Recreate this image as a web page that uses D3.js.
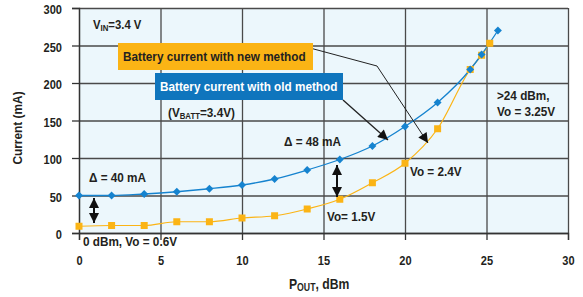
<!DOCTYPE html>
<html>
<head>
<meta charset="utf-8">
<script src="https://cdn.jsdelivr.net/npm/d3@7"></script>
<style>
  body { margin: 0; background: #fff; }
  svg text { font-family: "Liberation Sans", Arial, sans-serif; font-weight: bold; fill: #231f20; }
</style>
</head>
<body>
<div id="chart"></div>
<script>
// P_OUT (dBm) and battery current (mA)
const poutOld = [0, 2, 4, 6, 8, 10, 12, 14, 16, 18, 20, 22, 24, 24.7, 25.7];
const currentOld = [50, 50, 52, 55, 59, 64, 72, 84, 98, 116, 142, 174, 218, 238, 270];
const poutNew = [0, 2, 4, 6, 8, 10, 12, 14, 16, 18, 20, 22, 24, 24.7, 25.2];
const currentNew = [9, 10, 10, 15, 15, 20, 23, 32, 45, 67, 93, 139, 218, 237, 253];
const xTicks = [0, 5, 10, 15, 20, 25, 30];
const yTicks = [0, 50, 100, 150, 200, 250, 300];

const blue = "#1583cf";
const yellow = "#fbb415";

const W = 583, H = 297;
const margin = { left: 79, top: 8, right: 15, bottom: 64 };
const width = W - margin.left - margin.right;
const height = H - margin.top - margin.bottom;

const svg = d3.select("#chart")
    .append("svg")
    .attr("width", W)
    .attr("height", H);

svg.append("defs").append("marker")
    .attr("id", "head")
    .attr("viewBox", "0 0 10 10")
    .attr("refX", 10).attr("refY", 5)
    .attr("markerWidth", 12).attr("markerHeight", 10)
    .attr("markerUnits", "userSpaceOnUse")
    .attr("orient", "auto-start-reverse")
    .append("path")
    .attr("d", "M0,0 L10,5 L0,10 z")
    .attr("fill", "#111");

const chart = svg.append("g")
    .attr("transform", `translate(${margin.left}, ${margin.top})`);

const xScale = d3.scaleLinear().domain([0, 30]).range([0, width]);
const yScale = d3.scaleLinear().domain([0, 300]).range([height, 0]);

chart.append("rect")
    .attr("width", width)
    .attr("height", height)
    .attr("fill", "#ecf7fc");

// grid
chart.append("g")
    .call(d3.axisLeft(yScale).tickValues(yTicks).tickSize(-width).tickFormat(""))
    .call(g => g.select(".domain").remove())
    .selectAll("line").attr("stroke", "#4a4a4a").attr("stroke-width", 1.3);

chart.append("g")
    .attr("transform", `translate(0, ${height})`)
    .call(d3.axisBottom(xScale).tickValues(xTicks).tickSize(-height).tickFormat(""))
    .call(g => g.select(".domain").remove())
    .selectAll("line").attr("stroke", "#4a4a4a").attr("stroke-width", 1.3);

// axes
const xAxis = chart.append("g")
    .attr("transform", `translate(0, ${height})`)
    .call(d3.axisBottom(xScale).tickValues(xTicks).tickSize(7).tickPadding(16));
const yAxis = chart.append("g")
    .call(d3.axisLeft(yScale).tickValues(yTicks).tickSize(7).tickPadding(10));

[xAxis, yAxis].forEach(a => {
    a.select(".domain").attr("stroke", "#333").attr("stroke-width", 1.3);
    a.selectAll("line").attr("stroke", "#333").attr("stroke-width", 1.3);
    a.selectAll("text").style("font-size", "13px").attr("fill", "#231f20");
});
yAxis.selectAll("text").attr("dy", "0.45em");

// series
const line = d3.line().curve(d3.curveMonotoneX);

chart.append("path")
    .attr("d", line(poutNew.map((d, i) => [xScale(d), yScale(currentNew[i])])))
    .attr("fill", "none")
    .attr("stroke", yellow)
    .attr("stroke-width", 1.2);

chart.append("path")
    .attr("d", line(poutOld.map((d, i) => [xScale(d), yScale(currentOld[i])])))
    .attr("fill", "none")
    .attr("stroke", blue)
    .attr("stroke-width", 1.3);

chart.selectAll(".sq")
    .data(poutNew)
    .enter()
    .append("rect")
    .attr("x", (d) => xScale(d) - 3.5)
    .attr("y", (d, i) => yScale(currentNew[i]) - 3.5)
    .attr("width", 7)
    .attr("height", 7)
    .attr("fill", yellow);

chart.selectAll(".dia")
    .data(poutOld)
    .enter()
    .append("path")
    .attr("d", d3.symbol(d3.symbolDiamond2, 40))
    .attr("transform", (d, i) => `translate(${xScale(poutOld[i])}, ${yScale(currentOld[i])})`)
    .attr("fill", blue);

// narrow the glyphs, keeping each text's anchor in place
function condense(sel, k) {
    sel.each(function () {
        const ax = +(this.getAttribute("x") || 0);
        d3.select(this).attr("transform", `translate(${ax},0) scale(${k},1) translate(${-ax},0)`);
    });
}
condense(xAxis.selectAll("text"), 0.85);
condense(yAxis.selectAll("text"), 0.85);

// axis titles
const xt = svg.append("text")
    .attr("class", "lbl")
    .attr("x", 289)
    .attr("y", 289)
    .style("font-size", "14px");
xt.append("tspan").text("P");
xt.append("tspan").text("OUT").attr("dy", 2).style("font-size", "10px");
xt.append("tspan").text(", dBm").attr("dy", -2);

svg.append("text")
    .text("Current (mA)")
    .attr("transform", "translate(22, 128) rotate(-90) scale(0.88,1)")
    .attr("text-anchor", "middle")
    .style("font-size", "13.5px");

// annotations
const vin = svg.append("text").attr("class", "lbl").attr("x", 93).attr("y", 29).style("font-size", "13px");
vin.append("tspan").text("V");
vin.append("tspan").text("IN").attr("dy", 2).style("font-size", "9px");
vin.append("tspan").text("=3.4 V").attr("dy", -2);

// leader lines
svg.append("path")
    .attr("d", "M310,48 L377,66 L428,143")
    .attr("fill", "none")
    .attr("stroke", "#222")
    .attr("stroke-width", 1)
    .attr("marker-end", "url(#head)");

svg.append("path")
    .attr("d", "M343,100 L388,140")
    .attr("fill", "none")
    .attr("stroke", "#222")
    .attr("stroke-width", 1.3)
    .attr("marker-end", "url(#head)");

svg.append("rect").attr("x", 118).attr("y", 43).attr("width", 195).attr("height", 27).attr("fill", yellow);
svg.append("text").attr("class", "lbl").text("Battery current with new method")
    .attr("x", 123).attr("y", 61).style("font-size", "13.5px").attr("fill", "#231f20");

svg.append("rect").attr("x", 155).attr("y", 73).attr("width", 188).attr("height", 27).attr("fill", "#0f75bd");
svg.append("text").attr("class", "lbl").text("Battery current with old method")
    .attr("x", 160).attr("y", 91).style("font-size", "13.5px").style("fill", "#fff");

const vb = svg.append("text").attr("class", "lbl").attr("x", 168).attr("y", 117).style("font-size", "13.5px");
vb.append("tspan").text("(V");
vb.append("tspan").text("BATT").attr("dy", 2).style("font-size", "9px");
vb.append("tspan").text("=3.4V)").attr("dy", -2);

const notes = [
    ["Δ = 48 mA", 284, 146],
    ["Δ = 40 mA", 89, 182],
    [">24 dBm,", 497, 100],
    ["Vo = 3.25V", 497, 116],
    ["Vo = 2.4V", 410, 176],
    ["Vo= 1.5V", 327, 221],
    ["0  dBm, Vo = 0.6V", 83, 246]
];
notes.forEach(n => {
    svg.append("text").attr("class", "lbl").text(n[0])
        .attr("x", n[1]).attr("y", n[2]).style("font-size", "13.5px");
});

// double arrows
function doubleArrow(x, y1, y2) {
    svg.append("line")
        .attr("x1", x).attr("x2", x)
        .attr("y1", y1).attr("y2", y2)
        .attr("stroke", "#111")
        .attr("stroke-width", 2)
        .attr("marker-start", "url(#head)")
        .attr("marker-end", "url(#head)");
}
doubleArrow(94, 198, 223);
doubleArrow(337, 165, 197);

condense(svg.selectAll("text.lbl"), 0.87);
</script>
</body>
</html>
